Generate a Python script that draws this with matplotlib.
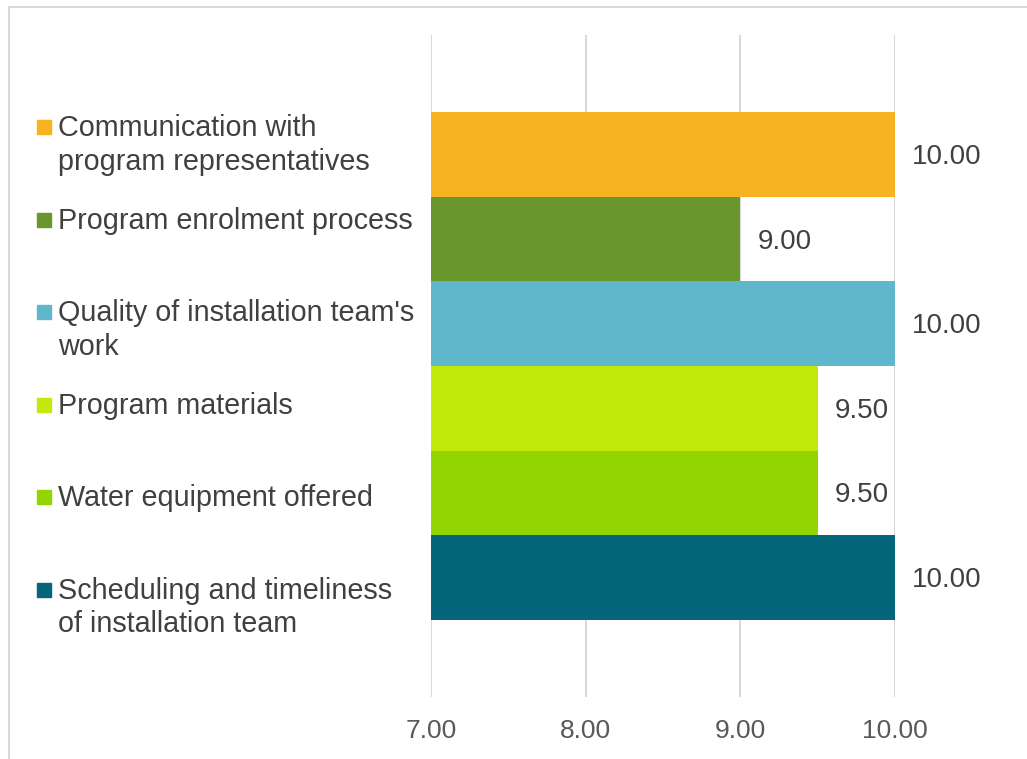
import matplotlib.pyplot as plt
from matplotlib.patches import Rectangle

plt.rcParams['font.family'] = ['Liberation Sans', 'DejaVu Sans']

categories = ["Communication with\nprogram representatives",
              "Program enrolment process",
              "Quality of installation team's\nwork",
              "Program materials",
              "Water equipment offered",
              "Scheduling and timeliness\nof installation team"]
values = [10.00, 9.00, 10.00, 9.50, 9.50, 10.00]
colors = ["#F8B323", "#6A962E", "#5FB7CC", "#C3E80C", "#93D500", "#05657A"]
ticks = [7, 8, 9, 10]

fig = plt.figure(figsize=(10.27, 7.59), dpi=100)
ax = fig.add_axes([431/1027, 1-697/759, (895-431)/1027, (697-35)/759])

n = len(values)
ypos = [n - 1 - i for i in range(n)]
ax.barh(ypos, [v - 7 for v in values], left=7, height=1.0, color=colors, zorder=3)
for y, v in zip(ypos, values):
    ax.text(v + 0.11, y - 0.03, "{:.2f}".format(v), va="center", ha="left",
            fontsize=20, color="#404040")

ax.set_xlim(7, 10)
ax.set_ylim(-1.417, n - 1 + 1.417)
ax.set_xticks(ticks)
ax.set_xticklabels(["{:.2f}".format(t) for t in ticks], fontsize=19, color="#595959")
ax.set_yticks([])
ax.tick_params(axis="x", length=0, pad=16)
ax.grid(axis="x", color="#d9d9d9", linewidth=1.5, zorder=0)
for s in ax.spines.values():
    s.set_visible(False)

# legend drawn by hand, marker aligned to first line like Excel
y0 = 127
step = 92.6
for i, (lab, c) in enumerate(zip(categories, colors)):
    yc = y0 + i * step
    fig.patches.append(Rectangle((37/1027, 1-(yc+7)/759), 14/1027, 14/759,
                                 transform=fig.transFigure, color=c))
    fig.text(58/1027, 1-(yc-13)/759, lab, ha="left", va="top", fontsize=20.7,
             color="#404040", linespacing=1.25)

# chart border
fig.patches.append(Rectangle((8.5/1027, -0.05), 1.1, 1.05-6.5/759,
                             transform=fig.transFigure, fill=False,
                             edgecolor="#d9d9d9", linewidth=1.5))

fig.savefig("out.png", dpi=100)
